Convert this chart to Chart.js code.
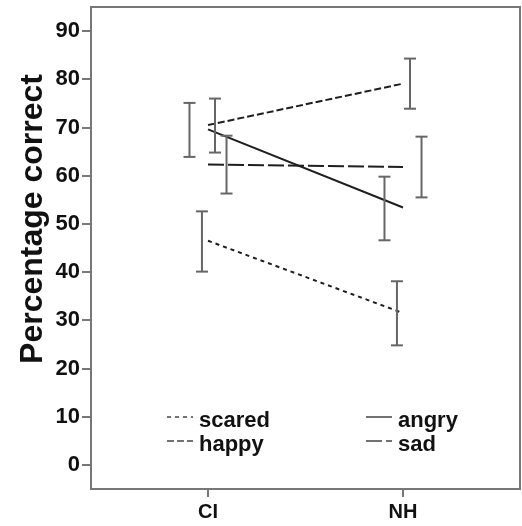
<!DOCTYPE html>
<html lang="en">
<head>
    <meta charset="UTF-8">
    <title>Percentage correct - CI vs NH</title>
    <script src="https://cdn.jsdelivr.net/npm/chart.js"></script>
    <style>
        body {
            margin: 0;
            padding: 0;
            background-color: #ffffff;
        }
        #chart {
            display: block;
        }
    </style>
</head>
<body>
    <canvas id="chart" width="522" height="526"></canvas>

    <script>
        // Dados
        const groups = ['CI', 'NH'];
        const yTicks = [0, 10, 20, 30, 40, 50, 60, 70, 80, 90];
        const yTitle = 'Percentage correct';

        const emotions = ['scared', 'happy', 'angry', 'sad'];

        const scaredMean = [46.5, 31.5];
        const scaredLow  = [40.1, 24.8];
        const scaredHigh = [52.6, 38.1];

        const happyMean = [70.5, 79.1];
        const happyLow  = [64.8, 73.9];
        const happyHigh = [76.0, 84.3];

        const angryMean = [69.6, 53.4];
        const angryLow  = [63.9, 46.6];
        const angryHigh = [75.1, 59.8];

        const sadMean = [62.3, 61.8];
        const sadLow  = [56.3, 55.5];
        const sadHigh = [68.3, 68.1];

        const series = {
            scared: { mean: scaredMean, low: scaredLow, high: scaredHigh },
            happy:  { mean: happyMean,  low: happyLow,  high: happyHigh },
            angry:  { mean: angryMean,  low: angryLow,  high: angryHigh },
            sad:    { mean: sadMean,    low: sadLow,    high: sadHigh }
        };

        // Estilo de cada linha e deslocamento das barras de erro
        const lineDash = { scared: [4, 4], happy: [7, 3], angry: [], sad: [16, 4] };
        const barOffset = { scared: -0.031, happy: 0.036, angry: -0.095, sad: 0.095 };

        const FONT = "'Liberation Sans', Arial, sans-serif";
        const LINE_COLOR = '#1e1e1e';
        const BAR_COLOR = '#666666';
        const AXIS_COLOR = '#777777';

        const datasets = [];

        // Barras de erro (uma por emoção e grupo)
        emotions.forEach(function(name) {
            groups.forEach(function(g, i) {
                const x = i + barOffset[name];
                datasets.push({
                    label: name + ' ' + g,
                    errorBar: true,
                    data: [{ x: x, y: series[name].low[i] }, { x: x, y: series[name].high[i] }],
                    borderColor: BAR_COLOR,
                    borderWidth: 2,
                    pointStyle: 'line',
                    pointRadius: 6,
                    pointBorderColor: BAR_COLOR,
                    pointBorderWidth: 2,
                    fill: false
                });
            });
        });

        // Linhas das médias
        emotions.forEach(function(name) {
            datasets.push({
                label: name,
                data: groups.map(function(g, i) { return { x: i, y: series[name].mean[i] }; }),
                borderColor: LINE_COLOR,
                borderWidth: 2,
                borderDash: lineDash[name],
                pointRadius: 0,
                fill: false
            });
        });

        // Moldura da área do gráfico
        const frame = {
            id: 'frame',
            beforeDatasetsDraw(chart) {
                const a = chart.chartArea;
                const ctx = chart.ctx;
                ctx.save();
                ctx.strokeStyle = AXIS_COLOR;
                ctx.lineWidth = 2;
                ctx.strokeRect(a.left, a.top, a.right - a.left, a.bottom - a.top);
                ctx.restore();
            }
        };

        // Título do eixo Y, um pouco acima do centro (como no original)
        const yAxisTitle = {
            id: 'yAxisTitle',
            afterDraw(chart) {
                const a = chart.chartArea;
                const ctx = chart.ctx;
                ctx.save();
                ctx.translate(33, (a.top + a.bottom) / 2 - 29);
                ctx.rotate(-Math.PI / 2);
                ctx.font = 'bold 32px ' + FONT;
                ctx.fillStyle = '#111111';
                ctx.textAlign = 'center';
                ctx.textBaseline = 'middle';
                ctx.fillText(yTitle, 0, 0);
                ctx.restore();
            }
        };

        // Legenda dentro do gráfico, em duas colunas
        const insideLegend = {
            id: 'insideLegend',
            afterDatasetsDraw(chart) {
                const a = chart.chartArea;
                const ctx = chart.ctx;
                const items = chart.data.datasets.filter(function(d) { return !d.errorBar; });
                const order = ['scared', 'angry', 'happy', 'sad'];
                ctx.save();
                ctx.font = 'bold 22px ' + FONT;
                ctx.fillStyle = '#111111';
                ctx.textBaseline = 'alphabetic';
                order.forEach(function(name, k) {
                    const ds = items.find(function(d) { return d.label === name; });
                    const col = k % 2;
                    const row = Math.floor(k / 2);
                    const sx = a.left + (col === 0 ? 76 : 275);
                    const base = a.bottom - 62 + row * 24;
                    ctx.strokeStyle = '#444444';
                    ctx.lineWidth = 1.5;
                    ctx.setLineDash(ds.borderDash);
                    ctx.beginPath();
                    ctx.moveTo(sx, base - 10);
                    ctx.lineTo(sx + 26, base - 10);
                    ctx.stroke();
                    ctx.setLineDash([]);
                    ctx.fillText(ds.label, sx + 32, base);
                });
                ctx.restore();
            }
        };

        new Chart(document.getElementById('chart').getContext('2d'), {
            type: 'line',
            data: { datasets: datasets },
            options: {
                responsive: false,
                animation: false,
                layout: { autoPadding: false, padding: { top: 7, right: 2, left: 0, bottom: 0 } },
                plugins: {
                    legend: { display: false },
                    tooltip: { enabled: false }
                },
                scales: {
                    x: {
                        type: 'linear',
                        min: -0.6,
                        max: 1.6,
                        afterBuildTicks: function(scale) {
                            scale.ticks = groups.map(function(g, i) { return { value: i }; });
                        },
                        afterFit: function(scale) {
                            scale.height = 37;
                            scale.paddingLeft = 0;
                            scale.paddingRight = 0;
                        },
                        ticks: {
                            callback: function(v) { return groups[v]; },
                            color: '#111111',
                            font: { family: FONT, size: 20, weight: 'bold' },
                            padding: 3,
                            maxRotation: 0
                        },
                        grid: { drawOnChartArea: false, color: AXIS_COLOR, lineWidth: 2, tickLength: 8 },
                        border: { display: false }
                    },
                    y: {
                        min: -5,
                        max: 95,
                        afterBuildTicks: function(scale) {
                            scale.ticks = yTicks.map(function(v) { return { value: v }; });
                        },
                        afterFit: function(scale) {
                            scale.width = 91;
                            scale.paddingTop = 0;
                            scale.paddingBottom = 0;
                        },
                        ticks: {
                            color: '#111111',
                            font: { family: FONT, size: 22, weight: 'bold' },
                            padding: 2
                        },
                        grid: { drawOnChartArea: false, color: AXIS_COLOR, lineWidth: 2, tickLength: 9 },
                        border: { display: false },
                        title: { display: false }
                    }
                }
            },
            plugins: [frame, insideLegend, yAxisTitle]
        });
    </script>
</body>
</html>
